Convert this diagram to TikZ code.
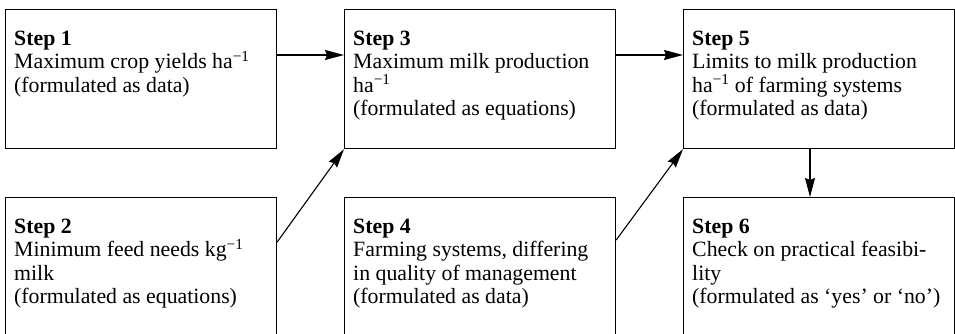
\documentclass[tikz,border=0pt]{standalone}
\usepackage{fontspec}
\setmainfont{Liberation Serif}
\usetikzlibrary{arrows.meta}
\begin{document}
\begin{tikzpicture}[x=1pt,y=1pt,
  box/.style={draw, line width=1.2pt, minimum width=271pt, minimum height=139pt, inner sep=0pt, anchor=north west},
  txt/.style={anchor=north west, align=left, inner sep=0pt, font=\fontsize{21.8}{23.5}\selectfont},
  conn/.style={line width=1.1pt, -{Stealth[length=19pt,width=10pt,inset=2pt]}}]
\useasboundingbox (0,0) rectangle (955,334);
% boxes
\node[box] (b1) at (5,325) {};
\node[box] (b3) at (344,325) {};
\node[box] (b5) at (683,325) {};
\node[box] (b2) at (5,137) {};
\node[box] (b4) at (344,137) {};
\node[box] (b6) at (683,137) {};
% texts
\node[txt] (t1) at ([shift={(9pt,-21.5pt)}]b1.north west) {\textbf{Step 1}\\Maximum crop yields ha\textsuperscript{−1}\\(formulated as data)};
\node[txt] (t3) at ([shift={(9pt,-21.5pt)}]b3.north west) {\textbf{Step 3}\\Maximum milk production\\ha\textsuperscript{−1}\\(formulated as equations)};
\node[txt] (t5) at ([shift={(9pt,-21.5pt)}]b5.north west) {\textbf{Step 5}\\Limits to milk production\\ha\textsuperscript{−1} of farming systems\\(formulated as data)};
\node[txt] (t2) at ([shift={(9pt,-21.5pt)}]b2.north west) {\textbf{Step 2}\\Minimum feed needs kg\textsuperscript{−1}\\milk\\(formulated as equations)};
\node[txt] (t4) at ([shift={(9pt,-21.5pt)}]b4.north west) {\textbf{Step 4}\\Farming systems, differing\\in quality of management\\(formulated as data)};
\node[txt] (t6) at ([shift={(9pt,-21.5pt)}]b6.north west) {\textbf{Step 6}\\Check on practical feasibi-\\lity\\(formulated as ‘yes’ or ‘no’)};
% connectors
\draw[conn] ([yshift=-46pt]b1.north east) -- ([yshift=-46pt]b3.north west);
\draw[conn] ([yshift=-46pt]b3.north east) -- ([yshift=-46pt]b5.north west);
\draw[conn] ([yshift=-45pt]b2.north east) -- (b3.south west);
\draw[conn] ([yshift=-43pt]b4.north east) -- (b5.south west);
\draw[conn] ([xshift=127pt]b5.south west) -- ([xshift=127pt]b6.north west);
\end{tikzpicture}
\end{document}
